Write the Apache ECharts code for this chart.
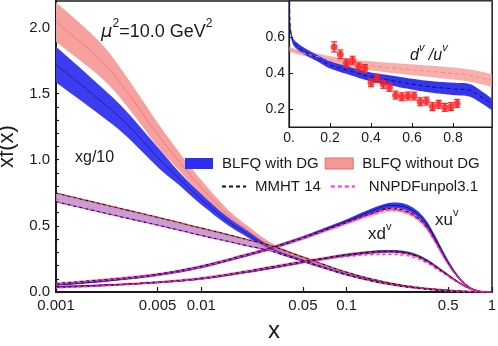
<!DOCTYPE html>
<html>
<head>
<meta charset="utf-8">
<script src="https://cdn.jsdelivr.net/npm/echarts@6/dist/echarts.min.js"></script>
<style>
  html, body { margin: 0; padding: 0; background: #fff; }
  #chart { width: 498px; height: 346px; }
</style>
</head>
<body>
<div id="chart"></div>
<script>
// ---- main panel: xg/10 ----
const xG = [0.001, 0.002, 0.003, 0.005, 0.007, 0.01, 0.015, 0.02, 0.03, 0.05, 0.07, 0.1, 0.15, 0.2, 0.3, 0.5, 0.7, 1]
const gBlue = [1.72, 1.45, 1.28, 1.02, 0.86, 0.7, 0.54, 0.45, 0.33, 0.24, 0.187, 0.135, 0.088, 0.06, 0.032, 0.011, 0.003, 0]
const gBlueErr = [0.135, 0.11, 0.095, 0.075, 0.05, 0.04, 0.03, 0.025, 0.018, 0.014, 0.012, 0.01, 0.008, 0.006, 0.004, 0.003, 0.002, 0]
const gRed = [2.04, 1.76, 1.53, 1.19, 0.99, 0.79, 0.59, 0.48, 0.35, 0.245, 0.19, 0.136, 0.088, 0.06, 0.032, 0.011, 0.003, 0]
const gRedErr = [0.15, 0.13, 0.11, 0.09, 0.07, 0.055, 0.04, 0.035, 0.025, 0.018, 0.014, 0.012, 0.01, 0.008, 0.006, 0.004, 0.002, 0]
const gGlob = [0.715, 0.637, 0.592, 0.535, 0.497, 0.455, 0.41, 0.377, 0.33, 0.25, 0.195, 0.14, 0.09, 0.062, 0.033, 0.011, 0.003, 0]
const gGlobErr = [0.033, 0.032, 0.031, 0.03, 0.029, 0.028, 0.026, 0.024, 0.02, 0.015, 0.012, 0.01, 0.008, 0.006, 0.004, 0.003, 0.002, 0]

// ---- main panel: valence xu^v, xd^v ----
const xV = [0.001, 0.002, 0.005, 0.01, 0.02, 0.03, 0.05, 0.07, 0.1, 0.15, 0.2, 0.25, 0.3, 0.35, 0.4, 0.5, 0.6, 0.7, 0.8, 0.9, 1]
const uMMHT = [0.065, 0.09, 0.135, 0.195, 0.28, 0.33, 0.41, 0.465, 0.525, 0.595, 0.63, 0.615, 0.57, 0.5, 0.4, 0.215, 0.1, 0.036, 0.01, 0.002, 0]
const uNNPDF = [0.06, 0.085, 0.13, 0.19, 0.275, 0.325, 0.405, 0.46, 0.52, 0.588, 0.62, 0.605, 0.56, 0.49, 0.39, 0.21, 0.096, 0.034, 0.009, 0.002, 0]
const uBlue = [0.055, 0.08, 0.13, 0.19, 0.275, 0.33, 0.41, 0.47, 0.535, 0.615, 0.655, 0.645, 0.6, 0.525, 0.42, 0.225, 0.1, 0.034, 0.008, 0.001, 0]
const uBlueErr = [0.008, 0.008, 0.009, 0.01, 0.01, 0.011, 0.012, 0.013, 0.015, 0.018, 0.02, 0.022, 0.022, 0.022, 0.02, 0.015, 0.01, 0.006, 0.003, 0.001, 0]
const uRed = [0.06, 0.088, 0.133, 0.193, 0.278, 0.33, 0.41, 0.465, 0.525, 0.593, 0.627, 0.612, 0.567, 0.497, 0.397, 0.212, 0.099, 0.035, 0.009, 0.002, 0]
const uRedErr = [0.012, 0.012, 0.012, 0.013, 0.014, 0.015, 0.016, 0.017, 0.018, 0.02, 0.02, 0.02, 0.02, 0.02, 0.018, 0.014, 0.01, 0.006, 0.003, 0.001, 0]
const dMMHT = [0.035, 0.048, 0.075, 0.105, 0.155, 0.19, 0.23, 0.255, 0.28, 0.3, 0.305, 0.296, 0.273, 0.238, 0.198, 0.124, 0.067, 0.028, 0.008, 0.001, 0]
const dNNPDF = [0.032, 0.045, 0.07, 0.1, 0.15, 0.183, 0.222, 0.245, 0.268, 0.282, 0.285, 0.277, 0.256, 0.224, 0.186, 0.117, 0.063, 0.026, 0.007, 0.001, 0]
const dBlue = [0.04, 0.05, 0.072, 0.1, 0.148, 0.18, 0.225, 0.252, 0.28, 0.302, 0.308, 0.3, 0.278, 0.243, 0.203, 0.127, 0.067, 0.027, 0.007, 0.001, 0]
const dBlueErr = [0.006, 0.006, 0.006, 0.007, 0.007, 0.008, 0.008, 0.009, 0.01, 0.01, 0.01, 0.01, 0.01, 0.01, 0.009, 0.008, 0.006, 0.004, 0.002, 0.001, 0]
const dRed = [0.036, 0.048, 0.074, 0.104, 0.154, 0.188, 0.228, 0.254, 0.279, 0.298, 0.303, 0.294, 0.272, 0.237, 0.198, 0.124, 0.067, 0.028, 0.008, 0.001, 0]
const dRedErr = [0.01, 0.01, 0.01, 0.011, 0.012, 0.012, 0.013, 0.013, 0.014, 0.014, 0.014, 0.014, 0.014, 0.013, 0.012, 0.01, 0.008, 0.005, 0.003, 0.001, 0]

// ---- inset: d^v/u^v ----
const xR = [0.001, 0.005, 0.01, 0.02, 0.04, 0.07, 0.1, 0.15, 0.2, 0.3, 0.4, 0.5, 0.6, 0.7, 0.8, 0.88, 0.94, 0.99]
const rBlue = [0.95, 0.68, 0.62, 0.575, 0.55, 0.525, 0.505, 0.475, 0.445, 0.41, 0.378, 0.358, 0.338, 0.322, 0.312, 0.304, 0.265, 0.225]
const rBlueErr = [0.03, 0.025, 0.02, 0.018, 0.018, 0.018, 0.018, 0.018, 0.02, 0.022, 0.025, 0.028, 0.03, 0.032, 0.034, 0.035, 0.034, 0.032]
const rRed = [0.535, 0.532, 0.529, 0.525, 0.519, 0.511, 0.502, 0.488, 0.474, 0.454, 0.44, 0.428, 0.418, 0.408, 0.397, 0.386, 0.372, 0.358]
const rRedErr = [0.012, 0.012, 0.012, 0.013, 0.014, 0.015, 0.016, 0.018, 0.02, 0.022, 0.025, 0.028, 0.03, 0.032, 0.033, 0.034, 0.035, 0.035]
const ptX = [0.22, 0.25, 0.28, 0.31, 0.34, 0.37, 0.40, 0.43, 0.46, 0.49, 0.52, 0.55, 0.58, 0.61, 0.64, 0.67, 0.70, 0.73, 0.76, 0.79, 0.82]
const ptY = [0.545, 0.504, 0.456, 0.471, 0.434, 0.425, 0.346, 0.37, 0.337, 0.32, 0.277, 0.268, 0.272, 0.272, 0.24, 0.244, 0.213, 0.226, 0.209, 0.213, 0.231]
const ptErr = [0.028, 0.024, 0.022, 0.022, 0.022, 0.022, 0.022, 0.022, 0.022, 0.022, 0.022, 0.022, 0.022, 0.022, 0.022, 0.022, 0.022, 0.022, 0.022, 0.022, 0.022]

// ticks
const xTickLabels = [0.001, 0.005, 0.01, 0.05, 0.1, 0.5, 1]
const yTickLabels = [0, 0.5, 1, 1.5, 2]
const yMinorTicks = [0, 0.1, 0.2, 0.3, 0.4, 0.5, 0.6, 0.7, 0.8, 0.9, 1, 1.1, 1.2, 1.3, 1.4, 1.5, 1.6, 1.7, 1.8, 1.9, 2, 2.1]
const insetXLabels = [0, 0.2, 0.4, 0.6, 0.8]
const insetYLabels = [0.2, 0.4, 0.6]

const FONT = '"Liberation Sans", Arial, sans-serif'
const INK = '#1a1a1a'

const pairs = (xs, ys) => xs.map((x, i) => [x, ys[i]])

// catmull-rom through pixel points, only for drawing
function spline(pts) {
  const out = []
  for (let i = 0; i < pts.length - 1; i++) {
    const p0 = pts[i - 1] || pts[i], p1 = pts[i], p2 = pts[i + 1], p3 = pts[i + 2] || pts[i + 1]
    for (let k = 0; k < 8; k++) {
      const t = k / 8, t2 = t * t, t3 = t2 * t
      out.push([0, 1].map(d => 0.5 * (2 * p1[d] + (-p0[d] + p2[d]) * t +
        (2 * p0[d] - 5 * p1[d] + 4 * p2[d] - p3[d]) * t2 + (-p0[d] + 3 * p1[d] - 3 * p2[d] + p3[d]) * t3)))
    }
  }
  out.push(pts[pts.length - 1])
  return out
}

function band(xs, mid, err, color, xi, yi) {
  const data = xs.map((x, i) => [x, mid[i] - err[i], mid[i] + err[i]])
  return {
    type: 'custom', xAxisIndex: xi, yAxisIndex: yi, clip: true, silent: true, z: 2,
    data: data, encode: { x: 0, y: [1, 2] },
    renderItem: function (params, api) {
      if (params.dataIndex !== 0) return
      const up = [], lo = []
      for (let i = 0; i < data.length; i++) {
        up.push(api.coord([api.value(0, i), api.value(2, i)]))
        lo.push(api.coord([api.value(0, i), api.value(1, i)]))
      }
      const pts = spline(up).concat(spline(lo).reverse())
      return { type: 'polygon', shape: { points: pts }, style: { fill: color } }
    }
  }
}

function line(name, xs, ys, color, opts) {
  opts = opts || {}
  return {
    name: name, type: 'line', xAxisIndex: opts.xi || 0, yAxisIndex: opts.yi || 0,
    data: pairs(xs, ys), smooth: 0.4, showSymbol: false, symbol: 'none', silent: true, z: opts.z || 3,
    lineStyle: { color: color, width: opts.width || 1.3, type: opts.type || 'solid', dashOffset: opts.offset || 0 }
  }
}

const dash = [3, 3]
const series = [
  // gluon
  band(xG, gRed, gRedErr, '#f6a19d', 0, 0),
  line('', xG, gRed, '#ee7c78', { width: 1 }),
  band(xG, gBlue, gBlueErr, '#3c3cf0', 0, 0),
  line('', xG, gBlue, '#1f1fb4', { width: 1 }),
  band(xG, gGlob, gGlobErr, 'rgba(190,140,205,0.85)', 0, 0),
  line('MMHT 14', xG, gGlob.map((v, i) => v + gGlobErr[i]), INK, { type: dash }),
  line('', xG, gGlob.map((v, i) => v + gGlobErr[i]), '#ff2020', { type: dash, offset: 3 }),
  line('MMHT 14', xG, gGlob.map((v, i) => v - gGlobErr[i]), INK, { type: dash }),
  line('NNPDFunpol3.1', xG, gGlob.map((v, i) => v - gGlobErr[i]), '#ff22ff', { type: dash, offset: 3 }),
  // xu
  band(xV, uRed, uRedErr, 'rgba(246,150,145,0.7)', 0, 0),
  band(xV, uBlue, uBlueErr, '#3838f0', 0, 0),
  line('', xV, uBlue, '#1212a0', { width: 1 }),
  line('MMHT 14', xV, uMMHT, INK, { type: dash }),
  line('', xV, uRed, '#ff2020', { type: dash, offset: 3 }),
  line('NNPDFunpol3.1', xV, uNNPDF, '#ff22ff', { type: dash, offset: 1.5 }),
  // xd
  band(xV, dRed, dRedErr, 'rgba(246,150,145,0.7)', 0, 0),
  band(xV, dBlue, dBlueErr, '#3838f0', 0, 0),
  line('', xV, dBlue, '#1212a0', { width: 1 }),
  line('MMHT 14', xV, dMMHT, INK, { type: dash }),
  line('', xV, dRed, '#ff2020', { type: dash, offset: 3 }),
  line('NNPDFunpol3.1', xV, dNNPDF, '#ff22ff', { type: dash, offset: 1.5 }),
  // legend-only entries for the bands
  { name: 'BLFQ with DG', type: 'line', data: [], xAxisIndex: 0, yAxisIndex: 0 },
  { name: 'BLFQ without DG', type: 'line', data: [], xAxisIndex: 0, yAxisIndex: 0 },
  // inset
  band(xR, rRed, rRedErr, 'rgba(246,150,145,0.75)', 2, 1),
  line('', xR, rRed, '#ef8a86', { xi: 2, yi: 1, type: [4, 3], width: 1 }),
  band(xR, rBlue, rBlueErr, '#3535ee', 2, 1),
  line('', xR, rBlue, '#101070', { xi: 2, yi: 1, type: [4, 3], width: 1 }),
  {
    type: 'custom', xAxisIndex: 2, yAxisIndex: 1, silent: true, z: 5,
    data: ptX.map((x, i) => [x, ptY[i], ptErr[i]]),
    renderItem: function (params, api) {
      const x = api.value(0), y = api.value(1), e = api.value(2)
      const a = api.coord([x, y + e]), b = api.coord([x, y - e])
      const st = { stroke: '#ff2020', lineWidth: 1.2 }
      return {
        type: 'group', children: [
          { type: 'line', shape: { x1: a[0], y1: a[1], x2: b[0], y2: b[1] }, style: st },
          { type: 'line', shape: { x1: a[0] - 3, y1: a[1], x2: a[0] + 3, y2: a[1] }, style: st },
          { type: 'line', shape: { x1: b[0] - 3, y1: b[1], x2: b[0] + 3, y2: b[1] }, style: st }
        ]
      }
    }
  },
  {
    type: 'scatter', xAxisIndex: 2, yAxisIndex: 1, silent: true, z: 6,
    data: pairs(ptX, ptY), symbolSize: 7, itemStyle: { color: '#ff1c1c' }
  }
]

const dashIcon = 'path://M0,0h4v2h-4zM7,0h4v2h-4zM14,0h4v2h-4zM21,0h3v2h-3z'
const sup = { fontSize: 11, fontFamily: FONT, verticalAlign: 'top', lineHeight: 22, fill: INK }

const option = {
  animation: false,
  textStyle: { fontFamily: FONT, color: INK },
  grid: [
    { left: 56, right: 6, top: 1, bottom: 54, show: true, borderColor: INK, borderWidth: 1.5, outerBoundsMode: 'none', containLabel: false },
    { left: 289, right: 6, top: 1, bottom: 219, show: true, borderColor: INK, borderWidth: 1.2, backgroundColor: '#fff', outerBoundsMode: 'none', containLabel: false }
  ],
  xAxis: [
    {
      type: 'log', logBase: 10, min: 0.001, max: 1, gridIndex: 0,
      axisLine: { show: true, onZero: false, lineStyle: { color: INK, width: 2 } },
      axisTick: { show: false }, axisLabel: { show: false }, splitLine: { show: false }
    },
    {
      type: 'value', min: -3, max: 0, gridIndex: 0, position: 'bottom',
      axisLine: { show: false, onZero: false }, splitLine: { show: false },
      axisTick: { show: true, inside: true, length: 5, customValues: xTickLabels.map(Math.log10), lineStyle: { color: INK, width: 1.2 } },
      axisLabel: {
        customValues: xTickLabels.map(Math.log10), fontSize: 15, margin: 6, color: INK,
        formatter: v => String(parseFloat(Math.pow(10, v).toPrecision(6)))
      },
      name: 'x', nameLocation: 'middle', nameGap: 27, nameTextStyle: { fontSize: 24, color: INK }
    },
    {
      type: 'value', min: 0, max: 0.99, gridIndex: 1,
      axisLine: { show: true, onZero: false, lineStyle: { color: INK, width: 1.2 } }, splitLine: { show: false },
      axisTick: { inside: true, length: 4, customValues: insetXLabels, lineStyle: { color: INK } },
      axisLabel: { customValues: insetXLabels, fontSize: 14, margin: 4, color: INK, formatter: v => v === 0 ? '0.' : v.toFixed(1) }
    }
  ],
  yAxis: [
    {
      type: 'value', min: 0, max: 2.2, gridIndex: 0, position: 'left',
      axisLine: { show: true, onZero: false, lineStyle: { color: INK, width: 2 } }, splitLine: { show: false },
      axisTick: { inside: true, length: 3, customValues: yMinorTicks, lineStyle: { color: INK, width: 1.2 } },
      axisLabel: { customValues: yTickLabels, fontSize: 15, margin: 6, color: INK, formatter: v => v.toFixed(1) },
      name: 'xf(x)', nameLocation: 'middle', nameGap: 30, nameTextStyle: { fontSize: 22, color: INK }
    },
    {
      type: 'value', min: 0.1, max: 0.8, gridIndex: 1, position: 'left',
      axisLine: { show: true, onZero: false, lineStyle: { color: INK, width: 1.2 } }, splitLine: { show: false },
      axisTick: { inside: true, length: 4, customValues: insetYLabels, lineStyle: { color: INK } },
      axisLabel: { customValues: insetYLabels, fontSize: 14, margin: 4, color: INK, formatter: v => v.toFixed(1) }
    }
  ],
  legend: [
    {
      left: 185, top: 156, padding: 0, itemWidth: 28, itemHeight: 11, itemGap: 6, selectedMode: false,
      textStyle: { fontSize: 15, color: INK, padding: [0, 0, 0, 4] },
      data: [
        { name: 'BLFQ with DG', icon: 'rect', itemStyle: { color: '#2f2ff2' } },
        { name: 'BLFQ without DG', icon: 'rect', itemStyle: { color: '#f59995', borderColor: '#e36a66', borderWidth: 1 } }
      ]
    },
    {
      left: 222, top: 179, padding: 0, itemWidth: 24, itemHeight: 2, itemGap: 10, selectedMode: false,
      textStyle: { fontSize: 15, color: INK, padding: [0, 0, 0, 4] },
      data: [
        { name: 'MMHT 14', icon: dashIcon, itemStyle: { color: '#111' } },
        { name: 'NNPDFunpol3.1', icon: dashIcon, itemStyle: { color: '#ff22ff' }, textStyle: { padding: [0, 0, 0, 9] } }
      ]
    }
  ],
  graphic: [
    {
      type: 'text', left: 101, top: 18, silent: true,
      style: {
        text: '{i|μ}{s|2}{n|=10.0 GeV}{s|2}',
        rich: {
          i: { fontSize: 18, fontStyle: 'italic', fontFamily: '"DejaVu Sans", sans-serif', verticalAlign: 'bottom', lineHeight: 23, fill: INK },
          n: { fontSize: 18, fontFamily: FONT, verticalAlign: 'bottom', lineHeight: 23, fill: INK },
          s: { fontSize: 12, fontFamily: FONT, verticalAlign: 'top', lineHeight: 23, fill: INK }
        }
      }
    },
    { type: 'text', left: 75, top: 150, silent: true, style: { text: 'xg/10', fontSize: 16, fontFamily: FONT, fill: INK } },
    {
      type: 'text', left: 435, top: 207, silent: true,
      style: {
        text: '{n|xu}{s|v}',
        rich: { n: { fontSize: 17, fontFamily: FONT, verticalAlign: 'bottom', lineHeight: 22, fill: INK }, s: sup }
      }
    },
    {
      type: 'text', left: 368, top: 221, silent: true,
      style: {
        text: '{n|xd}{s|v}',
        rich: { n: { fontSize: 17, fontFamily: FONT, verticalAlign: 'bottom', lineHeight: 22, fill: INK }, s: sup }
      }
    },
    {
      type: 'text', left: 410, top: 42, silent: true,
      style: {
        text: '{n|d}{s|v}{n| /u}{s|v}',
        rich: {
          n: { fontSize: 16, fontStyle: 'italic', fontFamily: FONT, verticalAlign: 'bottom', lineHeight: 22, fill: INK },
          s: { fontSize: 11, fontStyle: 'italic', fontFamily: FONT, verticalAlign: 'top', lineHeight: 22, fill: INK }
        }
      }
    }
  ],
  series: series
}

const chart = echarts.init(document.getElementById('chart'), null, { renderer: 'canvas' })
chart.setOption(option)
</script>
</body>
</html>
